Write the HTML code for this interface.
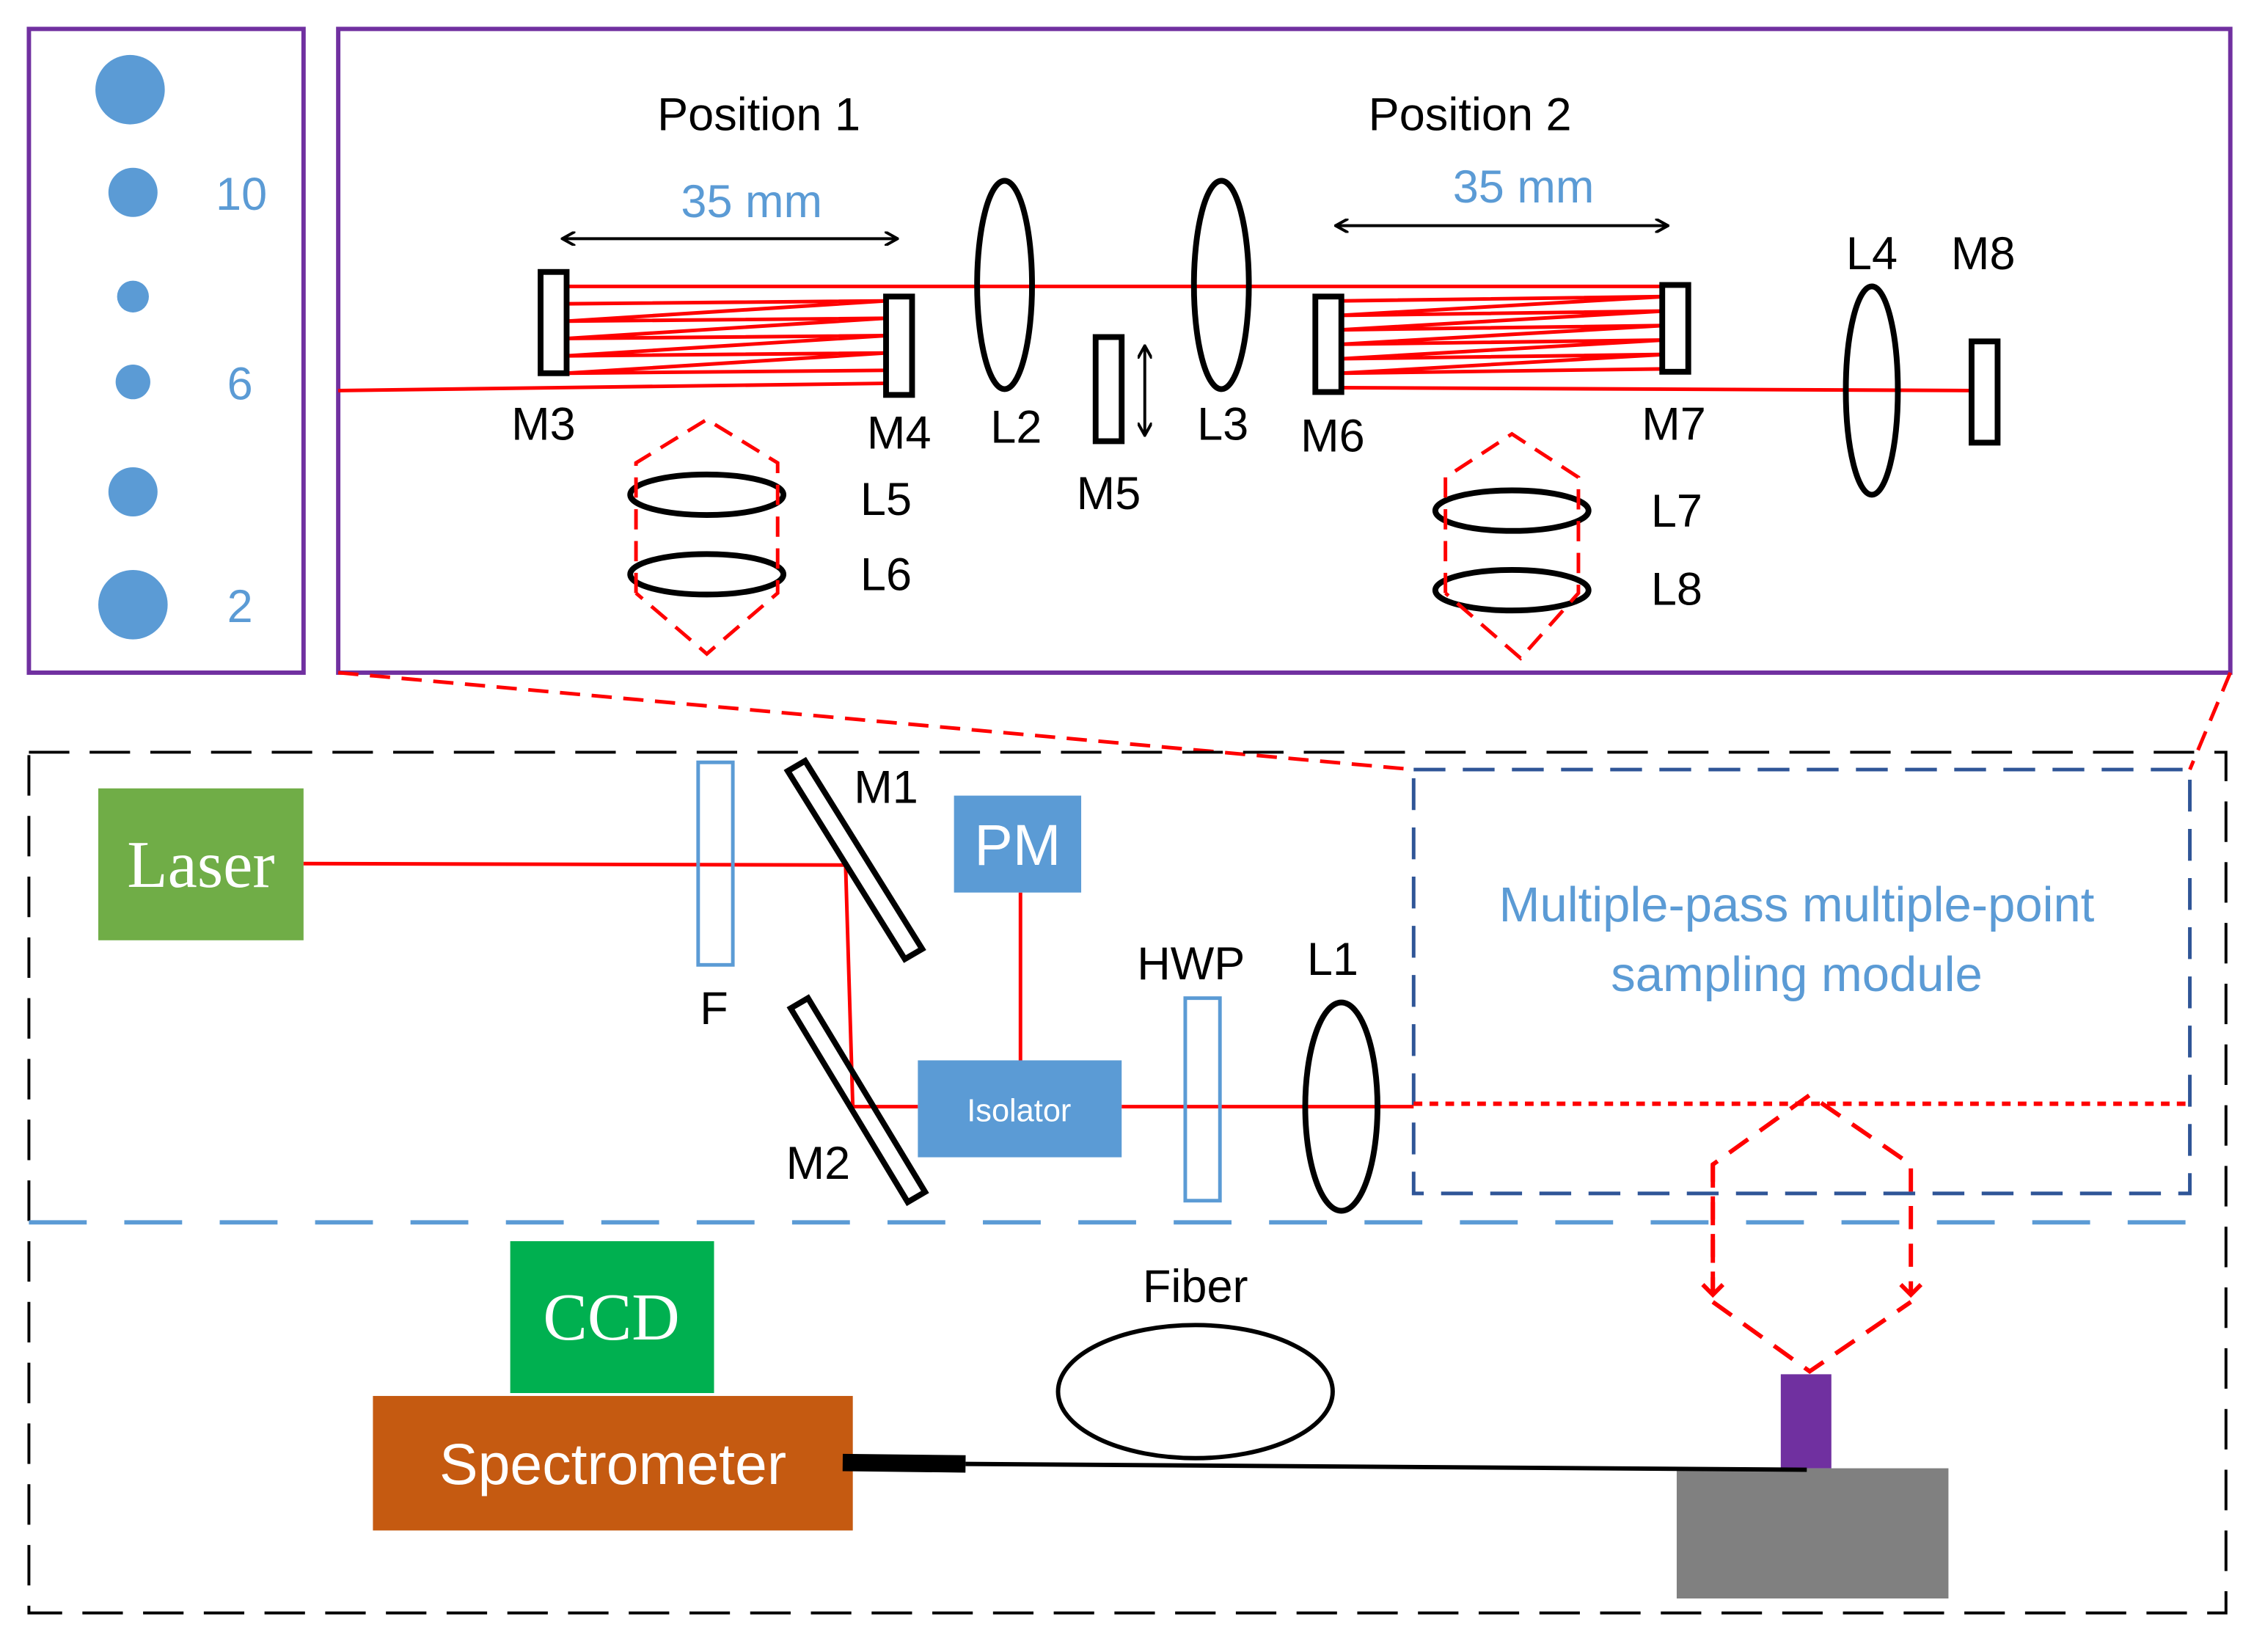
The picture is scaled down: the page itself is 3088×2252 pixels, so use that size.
<!DOCTYPE html>
<html><head><meta charset="utf-8"><style>html,body{margin:0;padding:0;background:#fff}svg{display:block}</style></head><body>
<svg xmlns="http://www.w3.org/2000/svg" width="3088" height="2252" viewBox="0 0 1567 1142" preserveAspectRatio="none" font-family="Liberation Sans, DejaVu Sans, sans-serif">
<defs>
<marker id="ah" markerWidth="10" markerHeight="10" refX="8" refY="5" orient="auto-start-reverse" markerUnits="userSpaceOnUse"><path d="M0,0 L9,5 L0,10" fill="none" stroke="#000" stroke-width="2"/></marker>
<marker id="rh" markerWidth="16" markerHeight="16" refX="8" refY="12" orient="0" markerUnits="userSpaceOnUse"><path d="M1,5 L8,12 L15,5" fill="none" stroke="#f00" stroke-width="3"/></marker>
</defs>
<rect x="20" y="20" width="190" height="445" fill="none" stroke="#7030a0" stroke-width="3"/>
<g fill="#5b9bd5"><circle cx="90" cy="62" r="24"/><circle cx="92" cy="133" r="17"/><circle cx="92" cy="205" r="11"/><circle cx="92" cy="264" r="12"/><circle cx="92" cy="340" r="17"/><circle cx="92" cy="418" r="24"/></g>
<g fill="#5b9bd5" font-size="32" text-anchor="middle"><text x="167" y="145">10</text><text x="166" y="276">6</text><text x="166" y="430">2</text></g>
<rect x="234" y="20" width="1309" height="445" fill="none" stroke="#7030a0" stroke-width="3"/>
<g font-size="32" text-anchor="middle" fill="#000">
<text x="525" y="90">Position 1</text><text x="1017" y="90">Position 2</text>
<text x="376" y="304">M3</text><text x="622" y="310">M4</text><text x="703" y="306">L2</text><text x="767" y="352">M5</text><text x="846" y="304">L3</text><text x="922" y="312">M6</text><text x="1158" y="304">M7</text><text x="1295" y="186">L4</text><text x="1372" y="186">M8</text><text x="613" y="356">L5</text><text x="613" y="408">L6</text><text x="1160" y="364">L7</text><text x="1160" y="418">L8</text>
</g>
<g fill="#5b9bd5" font-size="32" text-anchor="middle"><text x="520" y="150">35 mm</text><text x="1054" y="140">35 mm</text></g>
<line x1="390" y1="165" x2="620" y2="165" stroke="#000" stroke-width="2" marker-start="url(#ah)" marker-end="url(#ah)"/>
<line x1="925" y1="156" x2="1153" y2="156" stroke="#000" stroke-width="2" marker-start="url(#ah)" marker-end="url(#ah)"/>
<g stroke="#f00" stroke-width="2.5" fill="none">
<polyline points="234,270 613,265"/>
<polyline points="392,198 1152,198"/>
<polyline points="392,210 613,208 392,222 613,220 392,234 613,232 392,246 613,244 392,258 613,256"/>
<polyline points="928,208 1152,205 928,218 1152,215 928,228 1152,225 928,238 1152,235 928,248 1152,245 928,258 1152,255"/>
<polyline points="928,268 1365,270"/>
</g>
<g fill="#fff" stroke="#000" stroke-width="4">
<rect x="374" y="188" width="18" height="70"/><rect x="613" y="205" width="18" height="68"/>
<rect x="910" y="205" width="18" height="66"/><rect x="1150" y="197" width="18" height="60"/>
<rect x="1364" y="236" width="18" height="70"/><rect x="758" y="233" width="18" height="72"/>
</g>
<line x1="792" y1="240" x2="792" y2="300" stroke="#000" stroke-width="2" marker-start="url(#ah)" marker-end="url(#ah)"/>
<g fill="none" stroke="#000" stroke-width="4">
<ellipse cx="695" cy="197" rx="19" ry="72"/><ellipse cx="845" cy="197" rx="19" ry="72"/><ellipse cx="1295" cy="270" rx="18" ry="72"/>
<ellipse cx="489" cy="342" rx="53" ry="14"/><ellipse cx="489" cy="397" rx="53" ry="14"/>
<ellipse cx="1046" cy="353" rx="53" ry="14"/><ellipse cx="1046" cy="408" rx="53" ry="14"/>
</g>
<g fill="none" stroke="#f00" stroke-width="2.5" stroke-dasharray="14,8">
<polyline points="440,410 440,320 489,290 538,320 538,410 489,452 440,410"/>
<polyline points="1000,410 1000,330 1046,300 1092,330 1092,410 1052,455 1000,410"/>
<line x1="234" y1="465" x2="978" y2="532"/><line x1="1543" y1="465" x2="1515" y2="532"/>
</g>
<rect x="20" y="520" width="1520" height="595" fill="none" stroke="#000" stroke-width="2" stroke-dasharray="28,14"/>
<line x1="20" y1="845" x2="1525" y2="845" stroke="#5b9bd5" stroke-width="3" stroke-dasharray="40,26"/>
<rect x="978" y="532" width="537" height="293" fill="none" stroke="#2f5597" stroke-width="2.5" stroke-dasharray="22,12"/>
<g fill="#5b9bd5" font-size="34" text-anchor="middle"><text x="1243" y="637">Multiple-pass multiple-point</text><text x="1243" y="685">sampling module</text></g>
<rect x="68" y="545" width="142" height="105" fill="#70ad47"/>
<text x="139" y="613" font-family="Liberation Serif, serif" font-size="46" fill="#fff" text-anchor="middle">Laser</text>
<g stroke="#f00" stroke-width="2.5" fill="none"><polyline points="210,597 585,598 590,765 635,765"/><line x1="706" y1="617" x2="706" y2="733"/><line x1="776" y1="765" x2="978" y2="765"/></g>
<line x1="978" y1="763" x2="1515" y2="763" stroke="#f00" stroke-width="3" stroke-dasharray="6,5"/>
<rect x="483" y="527" width="24" height="140" fill="none" stroke="#5b9bd5" stroke-width="2.5"/>
<rect x="820" y="690" width="24" height="140" fill="none" stroke="#5b9bd5" stroke-width="2.5"/>
<g fill="none" stroke="#000" stroke-width="4">
<polygon points="545,533 557,526 638,656 626,663"/>
<polygon points="547,697 559,690 640,824 628,831"/>
<ellipse cx="928" cy="765" rx="25" ry="72"/>
<ellipse cx="827" cy="962" rx="95" ry="46" stroke-width="3"/>
</g>
<g font-size="32" text-anchor="middle"><text x="613" y="555">M1</text><text x="494" y="708">F</text><text x="566" y="815">M2</text><text x="824" y="677">HWP</text><text x="922" y="674">L1</text><text x="827" y="900">Fiber</text></g>
<rect x="660" y="550" width="88" height="67" fill="#5b9bd5"/><text x="704" y="598" font-size="40" fill="#fff" text-anchor="middle">PM</text>
<rect x="635" y="733" width="141" height="67" fill="#5b9bd5"/><text x="705" y="775" font-size="22" fill="#fff" text-anchor="middle">Isolator</text>
<g fill="none" stroke="#f00" stroke-width="3" stroke-dasharray="16,10">
<polyline points="1185,895 1185,805 1252,757 1322,805 1322,895" marker-end="url(#rh)"/>
<line x1="1185" y1="805" x2="1185" y2="895" marker-end="url(#rh)"/>
<polyline points="1185,900 1252,948 1322,900"/>
</g>
<rect x="1232" y="950" width="35" height="65" fill="#7030a0"/>
<rect x="1160" y="1015" width="188" height="90" fill="#808080"/>
<rect x="353" y="858" width="141" height="105" fill="#00b050"/>
<text x="423" y="926" font-family="Liberation Serif, serif" font-size="46" fill="#fff" text-anchor="middle">CCD</text>
<rect x="258" y="965" width="332" height="93" fill="#c55a11"/>
<text x="424" y="1026" font-size="40" fill="#fff" text-anchor="middle">Spectrometer</text>
<line x1="583" y1="1011" x2="668" y2="1012" stroke="#000" stroke-width="12"/>
<line x1="668" y1="1012" x2="1250" y2="1016" stroke="#000" stroke-width="3"/>
</svg>
</body></html>
